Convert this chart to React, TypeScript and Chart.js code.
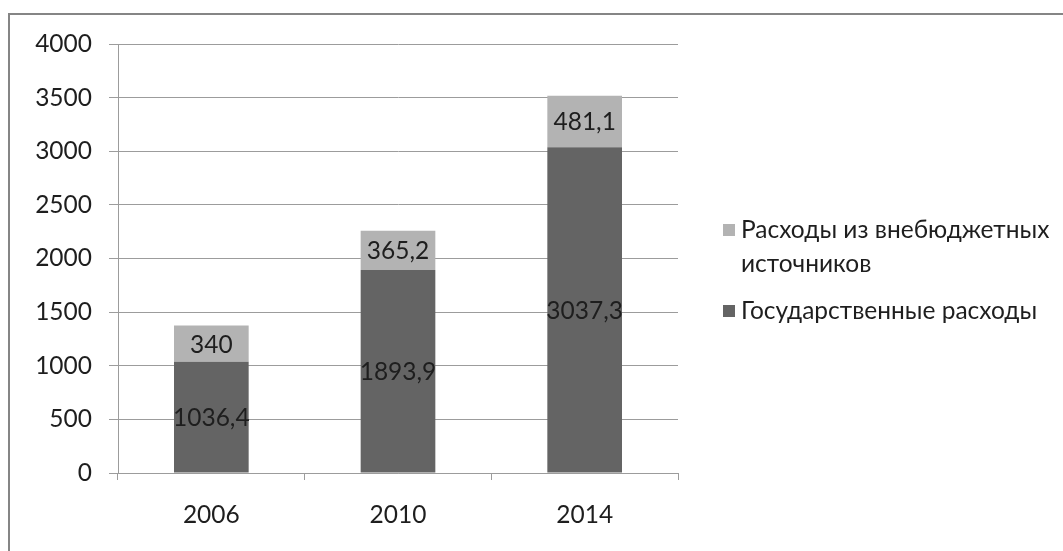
import React, { useEffect, useRef } from "react";
import { Chart, registerables } from "chart.js";

Chart.register(...registerables);

const categories = ["2006", "2010", "2014"];
const stateSpending = [1036.4, 1893.9, 3037.3];
const extraBudgetSpending = [340, 365.2, 481.1];
const seriesNames = ["Государственные расходы", "Расходы из внебюджетных источников"];
const seriesColors = ["#646464", "#b3b3b3"];
const yTicks = [0, 500, 1000, 1500, 2000, 2500, 3000, 3500, 4000];

const FONT = "Lato, 'Open Sans', sans-serif";
const FONT_SIZE = 24.5;
const TEXT_COLOR = "#1e1e1e";
const LINE_COLOR = "#9c9c9c";

const fmt = (v: number) => String(v).replace(".", ",");

const framePlugin = {
  id: "frame",
  beforeDraw(chart: any) {
    const ctx = chart.ctx;
    ctx.save();
    ctx.strokeStyle = "#858585";
    ctx.lineWidth = 2;
    ctx.beginPath();
    ctx.moveTo(9, chart.height);
    ctx.lineTo(9, 14);
    ctx.lineTo(chart.width, 14);
    ctx.stroke();
    ctx.restore();
  },
};

const valueLabelPlugin = {
  id: "valueLabels",
  afterDatasetsDraw(chart: any) {
    const ctx = chart.ctx;
    ctx.save();
    ctx.font = `${FONT_SIZE}px ${FONT}`;
    ctx.fillStyle = TEXT_COLOR;
    ctx.textAlign = "center";
    ctx.textBaseline = "middle";
    chart.data.datasets.forEach((ds: any, i: number) => {
      const meta = chart.getDatasetMeta(i);
      meta.data.forEach((bar: any, j: number) => {
        const { x, y, base } = bar.getProps(["x", "y", "base"], true);
        ctx.fillText(fmt(ds.data[j]), x, (y + base) / 2 + 1);
      });
    });
    ctx.restore();
  },
};

function wrap(ctx: CanvasRenderingContext2D, text: string, maxW: number): string[] {
  const words = text.split(" ");
  const lines: string[] = [];
  let cur = "";
  for (const w of words) {
    const test = cur ? cur + " " + w : w;
    if (ctx.measureText(test).width > maxW && cur) {
      lines.push(cur);
      cur = w;
    } else cur = test;
  }
  if (cur) lines.push(cur);
  return lines;
}

const legendPlugin = {
  id: "sideLegend",
  afterDraw(chart: any) {
    const ctx = chart.ctx;
    ctx.save();
    ctx.font = `${FONT_SIZE}px ${FONT}`;
    ctx.textBaseline = "middle";
    ctx.textAlign = "left";
    const boxX = 723;
    const textX = 741;
    const lineH = 34;
    const gap = 13;
    let y = 230;
    const ds = chart.data.datasets;
    for (let i = ds.length - 1; i >= 0; i--) {
      ctx.fillStyle = ds[i].backgroundColor;
      ctx.fillRect(boxX, y - 6, 12, 12);
      ctx.fillStyle = TEXT_COLOR;
      const lines = wrap(ctx, ds[i].label, 318);
      lines.forEach((ln, k) => ctx.fillText(ln, textX, y + k * lineH));
      y += lines.length * lineH + gap;
    }
    ctx.restore();
  },
};

export default function App() {
  const ref = useRef<HTMLCanvasElement>(null);
  useEffect(() => {
    if (!ref.current) return;
    const chart = new Chart(ref.current, {
      type: "bar",
      data: {
        labels: categories,
        datasets: [
          { label: seriesNames[0], data: stateSpending, backgroundColor: seriesColors[0], barPercentage: 0.4, categoryPercentage: 1 },
          { label: seriesNames[1], data: extraBudgetSpending, backgroundColor: seriesColors[1], barPercentage: 0.4, categoryPercentage: 1 },
        ],
      },
      options: {
        animation: false,
        responsive: false,
        devicePixelRatio: 1,
        layout: { padding: { top: 44, right: 385, bottom: 0, left: 0 } },
        plugins: { legend: { display: false }, tooltip: { enabled: false } },
        scales: {
          x: {
            stacked: true,
            ticks: { padding: 20, color: TEXT_COLOR, font: { family: FONT, size: FONT_SIZE } },
            grid: { display: true, drawOnChartArea: false, drawTicks: true, tickLength: 7, color: LINE_COLOR, offset: true },
            border: { color: LINE_COLOR },
            afterFit: (s: any) => { s.height = 78; },
          },
          y: {
            stacked: true,
            min: 0,
            max: 4000,
            afterBuildTicks: (s: any) => { s.ticks = yTicks.map((v) => ({ value: v })); },
            ticks: { padding: 17, color: TEXT_COLOR, font: { family: FONT, size: FONT_SIZE }, callback: (v: any) => String(v) },
            grid: { color: LINE_COLOR, tickLength: 9 },
            border: { color: LINE_COLOR },
            afterFit: (s: any) => { s.width = 118; },
          },
        },
      },
      plugins: [framePlugin, valueLabelPlugin, legendPlugin],
    });
    return () => chart.destroy();
  }, []);
  return (
    <div style={{ position: "fixed", left: 0, top: 0, width: 1063, height: 551, background: "#fff" }}>
      <canvas ref={ref} width={1063} height={551} style={{ display: "block" }} />
    </div>
  );
}
